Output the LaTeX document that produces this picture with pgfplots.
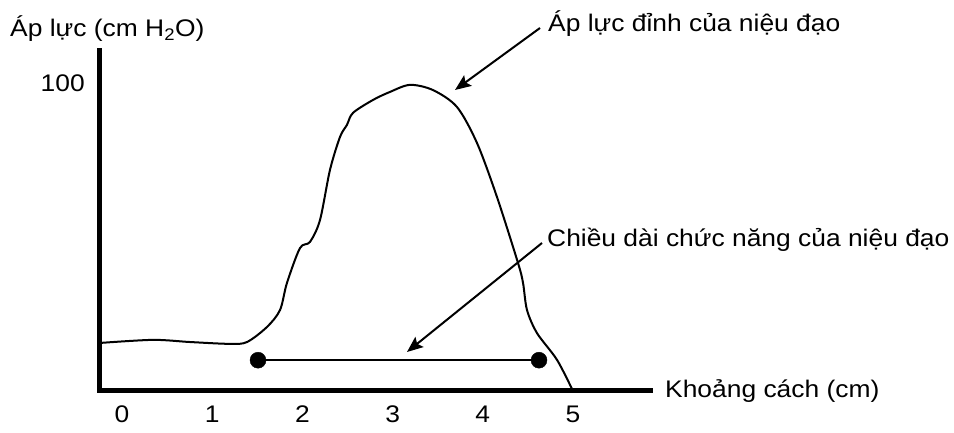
\documentclass[border=0pt]{standalone}
\usepackage{fontspec}
\setmainfont{Liberation Sans}[FakeStretch=1.1]
\usepackage{pgfplots}
\pgfplotsset{compat=1.18}
\usetikzlibrary{arrows.meta}
\newcommand\fs{\fontsize{24}{28}\selectfont}
\begin{document}
\begin{tikzpicture}
\useasboundingbox (-122pt,-42pt) rectangle (832pt,391pt);
\begin{axis}[
  anchor=origin, at={(0pt,0pt)},
  x=90.2pt, y=3.08pt,
  xmin=-0.244, xmax=5.86, ymin=0, ymax=110.5,
  axis lines=left,
  axis line style={line width=5pt, -, line cap=rect},
  clip=false,
  xtick={0,1,2,3,4,5}, ytick={100},
  major tick length=0pt,
  /pgf/number format/assume math mode=true,
  tick label style={font=\fs, inner sep=0pt},
  xticklabel style={anchor=north, yshift=-15pt},
  yticklabel style={anchor=east, xshift=-15pt},
]
\addplot[line width=2pt, smooth, tension=0.5] coordinates {
  (-0.244,15.6) (0.344,16.6) (0.754,15.9) (1.197,15.3) (1.386,15.9)
  (1.608,20.8) (1.752,26.3) (1.829,35.1) (1.973,46.4) (2.084,48.4)
  (2.195,55.5) (2.306,71.8) (2.417,82.5) (2.494,86.4) (2.561,90.3)
  (2.783,94.5) (2.971,97.1) (3.193,99.4) (3.448,97.7) (3.714,92.2)
  (3.936,80.5) (4.157,63.0) (4.390,41.6) (4.446,35.1) (4.490,26.3)
  (4.601,18.8) (4.823,10.1) (5.0,0)
};
\addplot[line width=1.5pt] coordinates {(1.508,10) (4.623,10)};
\addplot[only marks, mark=*, mark size=8pt] coordinates {(1.508,10) (4.623,10)};
\end{axis}
\node[font=\fs, anchor=base west, inner sep=0pt] at (-112pt,354pt) {Áp lực (cm H\textsubscript{2}O)};
\node[font=\fs, anchor=base west, inner sep=0pt] at (426pt,359pt) {Áp lực đỉnh của niệu đạo};
\node[font=\fs, anchor=base west, inner sep=0pt] at (425pt,144pt) {Chiều dài chức năng của niệu đạo};
\node[font=\fs, anchor=base west, inner sep=0pt] at (543pt,-7pt) {Khoảng cách (cm)};
\draw[line width=2pt, -{Stealth[length=16pt, width=13pt, inset=3pt]}] (418pt,363pt) -- (333pt,301pt);
\draw[line width=2pt, -{Stealth[length=16pt, width=13pt, inset=3pt]}] (420pt,148pt) -- (285pt,39pt);
\end{tikzpicture}
\end{document}
